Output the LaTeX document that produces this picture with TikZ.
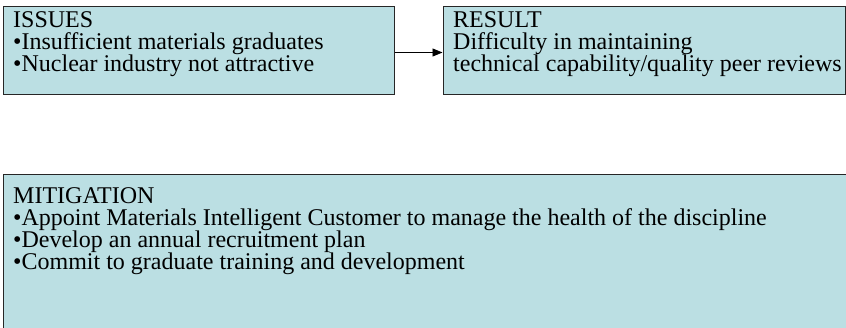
\documentclass[tikz,border=0pt]{standalone}
\usepackage{fontspec}
\setmainfont{Liberation Serif}
\usetikzlibrary{arrows.meta}
\definecolor{panel}{RGB}{187,223,227}
% keep a fixed baseline pitch even for tall lines
\setlength{\lineskiplimit}{-20pt}
\begin{document}
\begin{tikzpicture}[x=1pt,y=1pt,
  panelbox/.style={draw=black!85, line width=1.2pt, fill=panel, inner sep=0pt, anchor=north west},
  % placed by the baseline of the last line of the text block
  paneltext/.style={anchor=base west, inner sep=0pt, align=left,
    font=\fontsize{24}{22}\selectfont},
  link/.style={-{Triangle[length=10pt,width=8pt]}, line width=0.9pt}]
\useasboundingbox (0,0) rectangle (846,327);
% panels
\begin{scope}
  \clip (0,0) rectangle (846,327);
  \node[panelbox, minimum width=900, minimum height=200] (mitigation) at (2.5,153) {};
\end{scope}
\node[panelbox, minimum width=391.5, minimum height=88] (issues) at (2.5,321) {};
\node[panelbox, minimum width=402, minimum height=88] (result) at (442.5,321) {};
% connector between the two upper panels
\coordinate (issuesout) at (issues.east |- 0,274.5);
\coordinate (resultin) at (result.west |- 0,274.5);
\draw[link] (issuesout) -- (resultin);
% panel texts
\node[paneltext] (issuestext) at (13,255) {ISSUES\\
  •Insufficient materials graduates\\
  •Nuclear industry not attractive};
\node[paneltext] (resulttext) at (453,255) {RESULT\\
  Difficulty in maintaining\\
  technical capability/quality peer reviews};
\node[paneltext] (mitigationtext) at (13,58) {MITIGATION\\
  •Appoint Materials Intelligent Customer to manage the health of the discipline\\
  •Develop an annual recruitment plan\\
  •Commit to graduate training and development};
\end{tikzpicture}
\end{document}
